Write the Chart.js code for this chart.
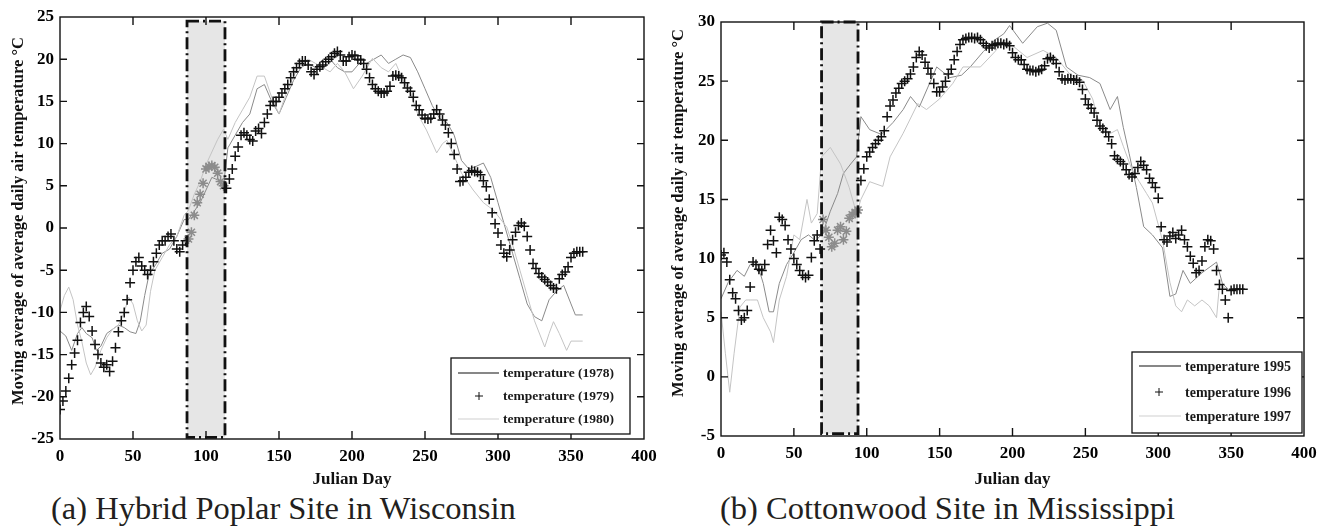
<!DOCTYPE html>
<html>
<head>
<meta charset="utf-8">
<script src="https://cdn.jsdelivr.net/npm/chart.js@4.4.0/dist/chart.umd.min.js"></script>
<style>
html, body { margin: 0; padding: 0; background: #fff; }
body { width: 1336px; height: 532px; position: relative; overflow: hidden; }
.panel { position: absolute; top: 0; width: 668px; height: 490px; }
.caption { position: absolute; top: 490px; font-family: 'Liberation Serif', 'Times New Roman', serif;
  font-size: 32.5px; line-height: 36px; color: #231f20; white-space: nowrap; }
</style>
</head>
<body>
<div class="panel" style="left:0"><canvas id="wi" width="668" height="490"></canvas></div>
<div class="panel" style="left:668px"><canvas id="ms" width="668" height="490"></canvas></div>
<div class="caption" style="left:51px">(a) Hybrid Poplar Site in Wisconsin</div>
<div class="caption" style="left:720px">(b) Cottonwood Site in Mississippi</div>
<script>
// days used by the marker series (every second day)
var evenDays = [0,2,4,6,8,10,12,14,16,18,20,22,24,26,28,30,32,34,36,38,
  40,42,44,46,48,50,52,54,56,58,60,62,64,66,68,70,72,74,76,78,
  80,82,84,86,88,90,92,94,96,98,100,102,104,106,108,110,112,114,116,118,
  120,122,124,126,128,130,132,134,136,138,140,142,144,146,148,150,152,154,156,158,
  160,162,164,166,168,170,172,174,176,178,180,182,184,186,188,190,192,194,196,198,
  200,202,204,206,208,210,212,214,216,218,220,222,224,226,228,230,232,234,236,238,
  240,242,244,246,248,250,252,254,256,258,260,262,264,266,268,270,272,274,276,278,
  280,282,284,286,288,290,292,294,296,298,300,302,304,306,308,310,312,314,316,318,
  320,322,324,326,328,330,332,334,336,338,340,342,344,346,348,350,352,354,356,358];

var yTitle = 'Moving average of average daily air temperature \u00b0C';

// ---- (a) Wisconsin ----
var wiLabels = ['temperature (1978)', 'temperature (1979)', 'temperature (1980)'];
var wiWindow = [87, 113];

var wi1978Days = [0,4,8,12,15,18,22,25,28,32,36,40,44,48,52,55,58,61,65,70,
  75,80,85,88,92,96,100,104,108,112,115,120,125,130,135,140,145,150,155,160,
  165,170,175,180,185,190,195,200,205,210,215,220,225,230,235,240,245,250,255,260,
  265,270,275,280,285,290,295,300,305,310,315,320,325,330,335,340,345,350,353,358];
var wi1978Temp = [-12.2,-12.8,-14.5,-12.5,-11.8,-12.5,-13,-14.5,-14,-12.5,-12,-11.5,-11.8,-12.3,-12.5,-11,-8,-5.5,-4.5,-3,
  -2.5,-1,1,1,2,3,4.5,6,5.7,5,9.5,11,12.5,13.5,16.5,17,15,13.5,15.5,17.5,
  19,19.5,19,20,20,19,18.5,18.5,19.5,19.5,20,20.5,19.5,20,20.5,20.2,18.5,16.5,14.5,13,
  12.5,11,8,7,7.3,7.7,6,3,0,-3,-6,-9,-10.5,-11,-8.5,-7.5,-6.8,-9,-10.3,-10.3];

var wi1979Temp = [-21.5,-20.5,-19.3,-17.8,-16.2,-14.8,-13.3,-11.2,-10,-9.3,
  -10.5,-12.2,-13.8,-15,-16,-16.5,-16.2,-17,-15.8,-14.2,
  -12.3,-11,-10,-8.5,-6.5,-5,-4,-3.5,-4.5,-5,
  -5.5,-5,-4,-3,-2,-1.5,-1.5,-1,-0.7,-1.5,
  -2.5,-2.8,-2,-1.5,-1.3,-0.5,1.5,3,4,5.3,
  7,7.3,7.4,7.2,6.5,5.5,5,4.7,5.8,7,
  8.5,9.6,11,11.3,11,10.5,10.3,11.5,11.8,11.2,
  12.5,13.5,14.5,15,15,15.5,16,16.5,17,17.8,
  18.5,19,19.5,19.8,19.8,19.3,18.5,18.2,18.8,19.1,
  19.3,19.7,20,20.3,20.7,20.9,20.5,19.8,19.8,20.3,
  20.5,20.4,20,19.9,19.5,18.8,17.8,17,16.5,16.2,
  16,16,16.2,16.8,18,18.1,18,17.8,17.2,16.6,
  16.2,15.5,14.5,14,13.4,13,12.9,13,13.5,14,
  13.5,12.8,12.2,11.3,10,8.7,7,5.5,5.6,6,
  6.6,6.8,6.7,6.6,6.3,5.6,4.9,3.4,1.8,0.5,
  -0.6,-2,-3,-3.4,-2.6,-1.4,-0.5,0.3,0.6,0.2,
  -1,-2.6,-4.2,-4.8,-5.4,-5.8,-6.1,-6.4,-6.8,-7.1,
  -7.2,-6,-5.5,-5.2,-4.6,-3.5,-3,-2.8,-2.8,-2.8];

var wi1980Days = [0,3,6,9,12,15,18,21,24,28,32,36,40,44,47,50,53,56,59,62,
  65,70,75,80,85,88,92,96,100,104,108,112,115,120,125,130,135,140,145,150,
  155,160,165,170,175,180,185,190,195,201,207,214,220,225,230,235,240,245,251,258,
  262,265,270,275,283,290,297,306,310,315,320,325,332,335,338,342,347,350,358];
var wi1980Temp = [-9.8,-8,-7,-8.5,-11.5,-13.5,-16,-17.4,-16.5,-14.5,-13,-12,-11.5,-10,-8.2,-9,-11,-12.2,-11.5,-7.5,
  -5,-3.5,-2,-1,1.5,2.1,4,5.5,7.5,9,10.5,11.7,10.5,12.5,14,15.5,18,18,15.5,13.5,
  16,18,19.5,20,19.5,19,18.5,19.5,18.5,16.5,18,20.1,19,18.5,19.5,17.5,16,13.5,11.6,8.9,
  10,10.4,8.5,6.5,4.5,3,2.1,0.1,-2,-5,-8,-11,-14.1,-12.5,-11.1,-12.5,-14.5,-13.4,-13.4];

// ---- (b) Mississippi ----
var msLabels = ['temperature 1995', 'temperature 1996', 'temperature 1997'];
var msWindow = [69, 94];

var ms1995Days = [0,5,11,16,20,25,29,33,36,40,45,50,55,60,65,70,75,80,84,89,
  93,96,102,110,118,125,130,136,142,148,157,165,171,180,188,194,198,207,217,224,
  230,237,245,253,260,267,272,276,280,285,290,296,303,308,312,317,322,330,340,344,349,356];
var ms1995Temp = [6.6,8,9,8.5,9.5,9.5,7.9,5.5,5.5,7.9,9.5,10.5,11.6,12,11.5,12.2,14,15.5,17.2,18,
  18.6,22,20.9,20.5,21.5,22.6,23.7,22.8,24.5,26.2,25.3,25.5,26.2,27.5,28.5,29,29.7,28.2,29.6,29.9,
  29.3,26.2,25.5,25.3,24.8,22.6,23.7,21.1,18.9,16,12.7,12,10.9,6.8,7,9,7.9,8.8,9.7,7.9,7.3,7.3];

var ms1996Temp = [10.3,10.5,9.7,8.2,7.1,6.6,5.6,4.8,5,5.6,
  7.6,9.7,9.5,9.1,9,9.5,11.2,12.4,11.5,10.5,
  13.5,13.3,12.8,11.6,10.8,10,9.5,9,8.6,8.4,
  8.6,10.1,11.5,12,10.8,13.3,12.4,11.8,11,11.3,
  12.4,12.7,11.6,12.3,13.4,13.7,13.9,14.1,16.6,17.6,
  18.6,19,19.4,19.7,20,20.3,20.8,22,22.9,23.4,
  24,24.4,24.8,25,25.2,25.6,26.2,27,27.5,27.2,
  26.6,26.1,25.6,24.8,24.1,24.1,24.5,25,25.6,26,
  26.8,27.5,28.1,28.5,28.6,28.7,28.7,28.6,28.7,28.5,
  28.2,28,27.8,28,28.1,28.2,28.2,28.1,28.2,28,
  27.4,27,26.8,26.8,26.4,26,25.9,25.9,25.8,25.9,
  26,26.3,26.9,27,26.8,26.5,25.8,25.2,25.1,25.2,
  25.2,25.1,25.1,24.9,24.3,23.5,23,22.7,22.3,21.7,
  21.2,21,20.7,20.3,19.7,18.7,18.4,18.2,18,17.5,
  17.1,16.9,17.2,17.7,18.2,17.9,17.5,16.8,16.4,16,
  15.1,12.7,11.6,11.4,11.9,12.2,11.7,12,12.4,11.6,
  11,10.2,9.6,8.8,9,9.8,11,11.6,11.5,10.8,
  9,7.8,7.4,6.5,5,7.3,7.4,7.4,7.4,7.4];

var ms1997Days = [0,3,6,9,13,17,20,25,29,34,36,40,45,50,54,59,62,66,69,75,
  82,88,93,96,102,111,116,125,135,141,150,159,166,178,188,194,200,210,221,230,
  240,248,255,260,266,272,276,282,287,292,296,303,308,312,316,320,325,330,335,340,342,346,350,356];
var ms1997Temp = [5.5,2,-1.3,2,5.9,6.5,6.5,6.5,5,3.8,2.9,6.5,8.5,12,11.6,15,13,13.8,18.6,19.4,
  18,16,13.8,15,16.5,16.1,18.6,20.6,23.1,22.6,23.5,24.8,26.2,26.2,27.5,28.5,28,27,27.6,27,
  25.5,25.1,23.5,21.2,20.5,20.9,19.5,17.5,16.5,15.5,14.7,11.5,8,6,5.5,6.5,6,6.5,6,5,7.8,7.5,7.3,7.3];

function pts(days, vals) {
  return days.map(function (d, i) { return { x: d, y: vals[i] }; });
}

var serif = "'Liberation Serif', 'Times New Roman', serif";

var framePlugin = {
  id: 'frame',
  afterDatasetsDraw: function (chart) {
    var ctx = chart.ctx, a = chart.chartArea, x = chart.scales.x, y = chart.scales.y;
    ctx.save();
    ctx.strokeStyle = '#111';
    ctx.lineWidth = 1.4;
    ctx.strokeRect(a.left, a.top, a.right - a.left, a.bottom - a.top);
    ctx.beginPath();
    x.ticks.forEach(function (t) {
      if (t.value <= x.min || t.value >= x.max) return;
      var px = x.getPixelForValue(t.value);
      ctx.moveTo(px, a.bottom); ctx.lineTo(px, a.bottom - 8);
      ctx.moveTo(px, a.top); ctx.lineTo(px, a.top + 8);
    });
    y.ticks.forEach(function (t) {
      if (t.value <= y.min || t.value >= y.max) return;
      var py = y.getPixelForValue(t.value);
      ctx.moveTo(a.left, py); ctx.lineTo(a.left + 7, py);
      ctx.moveTo(a.right, py); ctx.lineTo(a.right - 7, py);
    });
    ctx.stroke();
    ctx.restore();
  }
};

var shadePlugin = {
  id: 'shade',
  beforeDatasetsDraw: function (chart, args, o) {
    var ctx = chart.ctx, x = chart.scales.x, y = chart.scales.y;
    var l = x.getPixelForValue(o.from), r = x.getPixelForValue(o.to);
    var t = y.getPixelForValue(o.high), b = y.getPixelForValue(o.low);
    ctx.save();
    ctx.fillStyle = '#e6e6e6';
    ctx.fillRect(l, t, r - l, b - t);
    ctx.restore();
  },
  afterDatasetsDraw: function (chart, args, o) {
    var ctx = chart.ctx, x = chart.scales.x, y = chart.scales.y;
    var l = x.getPixelForValue(o.from), r = x.getPixelForValue(o.to);
    var t = y.getPixelForValue(o.high), b = y.getPixelForValue(o.low);
    ctx.save();
    ctx.strokeStyle = '#111';
    ctx.lineWidth = 2.8;
    ctx.setLineDash([12, 4, 2, 4]);
    ctx.strokeRect(l, t, r - l, b - t);
    ctx.restore();
  }
};

// rotated y title, placed by centre point
var sideTitle = {
  id: 'sideTitle',
  afterDraw: function (chart, args, o) {
    var ctx = chart.ctx;
    ctx.save();
    ctx.translate(o.cx, o.cy);
    ctx.rotate(-Math.PI / 2);
    ctx.font = 'bold ' + o.size + 'px ' + serif;
    ctx.fillStyle = '#111';
    ctx.textAlign = 'center';
    ctx.textBaseline = 'middle';
    ctx.fillText(o.text, 0, 0);
    ctx.restore();
  }
};

var boxLegend = {
  id: 'boxLegend',
  afterDraw: function (chart, args, o) {
    var ctx = chart.ctx, a = chart.chartArea;
    var r = a.right - o.inset, b = a.bottom - o.insetBottom;
    var l = r - o.width, t = b - o.height;
    ctx.save();
    ctx.fillStyle = '#fff';
    ctx.fillRect(l, t, o.width, o.height);
    ctx.strokeStyle = '#111';
    ctx.lineWidth = 1.3;
    ctx.strokeRect(l, t, o.width, o.height);
    ctx.font = 'bold ' + o.fontSize + 'px ' + serif;
    ctx.textBaseline = 'middle';
    ctx.fillStyle = '#1a1a1a';
    o.labels.forEach(function (txt, i) {
      var yy = t + o.rows[i];
      ctx.beginPath();
      if (i === 1) {
        ctx.strokeStyle = '#111'; ctx.lineWidth = 1;
        ctx.moveTo(l + o.mark - 4, yy); ctx.lineTo(l + o.mark + 4, yy);
        ctx.moveTo(l + o.mark, yy - 4); ctx.lineTo(l + o.mark, yy + 4);
      } else {
        ctx.strokeStyle = i === 0 ? '#111' : '#d0d0d0'; ctx.lineWidth = 1.2;
        ctx.moveTo(l + 7, yy); ctx.lineTo(l + o.lineEnd, yy);
      }
      ctx.stroke();
      ctx.fillText(txt, l + o.textX, yy + 1);
    });
    ctx.restore();
  }
};

function makeChart(id, cfg) {
  var win = cfg.window;
  function inWin(c) { return c.raw && c.raw.x >= win[0] && c.raw.x <= win[1]; }
  return new Chart(document.getElementById(id), {
    type: 'scatter',
    data: {
      datasets: [
        { label: cfg.labels[0], data: cfg.lineA, showLine: true, pointRadius: 0,
          borderColor: '#8a8a8a', borderWidth: 1, order: 2 },
        { label: cfg.labels[1], data: cfg.marks, showLine: false,
          pointStyle: function (c) { return inWin(c) ? 'star' : 'cross'; },
          pointRadius: 5, pointBorderWidth: 1.5,
          pointBorderColor: function (c) { return inWin(c) ? '#8c8c8c' : '#111'; },
          order: 0 },
        { label: cfg.labels[2], data: cfg.lineB, showLine: true, pointRadius: 0,
          borderColor: '#c4c4c4', borderWidth: 1, order: 1 }
      ]
    },
    options: {
      responsive: false,
      animation: false,
      devicePixelRatio: 1,
      layout: { padding: cfg.padding },
      scales: {
        x: {
          type: 'linear', min: 0, max: 400,
          ticks: { stepSize: 50, color: '#000', padding: 7, maxRotation: 0,
            font: { family: serif, size: 17, weight: 'bold' } },
          grid: { display: false, drawTicks: false },
          border: { display: false },
          title: { display: true, text: cfg.xTitle, color: '#111', padding: { top: 0, bottom: 0 },
            font: { family: serif, size: 17, weight: 'bold' } },
          afterFit: function (s) { s.height = cfg.xHeight; }
        },
        y: {
          min: cfg.yMin, max: cfg.yMax,
          ticks: { stepSize: 5, color: '#000', padding: 6,
            font: { family: serif, size: 17, weight: 'bold' } },
          grid: { display: false, drawTicks: false },
          border: { display: false },
          title: { display: false },
          afterFit: function (s) { s.width = cfg.yWidth; }
        }
      },
      plugins: {
        legend: { display: false },
        tooltip: { enabled: false },
        shade: { from: win[0], to: win[1], low: cfg.shadeLow, high: cfg.shadeHigh },
        sideTitle: cfg.side,
        boxLegend: cfg.legend
      }
    },
    plugins: [shadePlugin, framePlugin, sideTitle, boxLegend]
  });
}

makeChart('wi', {
  window: wiWindow,
  labels: wiLabels,
  lineA: pts(wi1978Days, wi1978Temp),
  marks: pts(evenDays, wi1979Temp),
  lineB: pts(wi1980Days, wi1980Temp),
  xTitle: 'Julian Day',
  yMin: -25, yMax: 25,
  shadeLow: -24.8, shadeHigh: 24.5,
  padding: { left: 0, top: 17, right: 24, bottom: 0 },
  xHeight: 51, yWidth: 60,
  side: { text: yTitle, cx: 19, cy: 221, size: 16.5 },
  legend: { labels: wiLabels, width: 179, height: 76, inset: 14, insetBottom: 5,
    rows: [15, 38, 61], mark: 28, lineEnd: 48, textX: 52, fontSize: 13.5 }
});

makeChart('ms', {
  window: msWindow,
  labels: msLabels,
  lineA: pts(ms1995Days, ms1995Temp),
  marks: pts(evenDays, ms1996Temp),
  lineB: pts(ms1997Days, ms1997Temp),
  xTitle: 'Julian day',
  yMin: -5, yMax: 30,
  shadeLow: -4.8, shadeHigh: 30,
  padding: { left: 0, top: 22, right: 32, bottom: 0 },
  xHeight: 54, yWidth: 53,
  side: { text: yTitle, cx: 11, cy: 213, size: 16.5 },
  legend: { labels: msLabels, width: 170, height: 81, inset: 2, insetBottom: 3,
    rows: [14, 40, 64], mark: 27, lineEnd: 49, textX: 53, fontSize: 14 }
});
</script>
</body>
</html>
